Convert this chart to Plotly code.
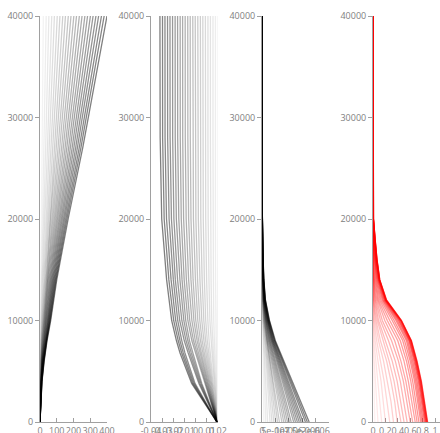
import plotly.graph_objects as go

# ---------------- data ----------------
# Panel 1 (0..400)
y1 = [0, 2000, 4000, 6000, 8000, 10000, 14000, 20000, 27000, 40000]
p1_lines = [
    [0, 0.3, 0.6, 1.3, 2.1, 3.2, 5.0, 8.4, 12.8, 20],
    [0, 0.5, 1.1, 2.3, 3.9, 5.9, 9.3, 15.5, 23.6, 37],
    [0, 0.7, 1.6, 3.3, 5.6, 8.5, 13.3, 22.3, 33.8, 53],
    [0, 0.9, 2.1, 4.4, 7.4, 11.2, 17.5, 29.4, 44.6, 70],
    [0, 1.1, 2.6, 5.4, 9.0, 13.8, 21.5, 36.1, 54.8, 86],
    [0, 1.3, 3.1, 6.4, 10.8, 16.5, 25.8, 43.3, 65.7, 103],
    [0, 1.5, 3.6, 7.4, 12.5, 19.0, 29.8, 50.0, 75.9, 119],
    [0, 1.7, 4.1, 8.5, 14.3, 21.8, 34.0, 57.1, 86.7, 136],
    [0, 1.9, 4.6, 9.5, 16.0, 24.3, 38.0, 63.8, 96.9, 152],
    [0, 2.1, 5.1, 10.6, 17.7, 27.0, 42.3, 71.0, 107.7, 169],
    [0, 2.3, 5.6, 11.6, 19.4, 29.6, 46.3, 77.7, 117.9, 185],
    [0, 2.5, 6.1, 12.6, 21.2, 32.3, 50.5, 84.8, 128.8, 202],
    [0, 2.7, 6.5, 13.6, 22.9, 34.9, 54.5, 91.6, 139.0, 218],
    [0, 2.9, 7.1, 14.7, 24.7, 37.6, 58.8, 98.7, 149.8, 235],
    [0, 3.1, 7.5, 15.7, 26.4, 40.2, 62.8, 105.4, 160.0, 251],
    [0, 3.4, 8.0, 16.8, 28.1, 42.9, 67.0, 112.6, 170.9, 268],
    [0, 3.6, 8.5, 17.8, 29.8, 45.4, 71.0, 119.3, 181.1, 284],
    [0, 3.8, 9.0, 18.8, 31.6, 48.2, 75.3, 126.4, 191.9, 301],
    [0, 4.0, 9.5, 19.8, 33.3, 50.7, 79.3, 133.1, 202.1, 317],
    [0, 4.2, 10.0, 20.9, 35.1, 53.4, 83.5, 140.3, 212.9, 334],
    [0, 4.4, 10.5, 21.9, 36.8, 56.0, 87.5, 147.0, 223.1, 350],
    [0, 4.6, 11.0, 22.9, 38.5, 58.7, 91.8, 154.1, 234.0, 367],
    [0, 4.8, 11.5, 23.9, 40.2, 61.3, 95.8, 160.9, 244.2, 383],
    [0, 5.0, 12.0, 25.0, 42.0, 64.0, 100.0, 168.0, 255.0, 400],
]

# Panel 2 (-0.04..0.02)
y2 = [0, 3800, 6800, 8000, 10000, 14000, 20000, 28000, 40000]
p2_lines = [
    [0.019, 0.0193, 0.0196, 0.0197, 0.0198, 0.0199, 0.0200, 0.0200, 0.0200],
    [0.019, 0.0186, 0.0182, 0.0181, 0.0180, 0.0178, 0.0177, 0.0177, 0.0177],
    [0.019, 0.0179, 0.0170, 0.0166, 0.0162, 0.0159, 0.0156, 0.0155, 0.0155],
    [0.019, 0.0171, 0.0156, 0.0151, 0.0144, 0.0138, 0.0134, 0.0132, 0.0132],
    [0.019, 0.0164, 0.0144, 0.0136, 0.0127, 0.0119, 0.0112, 0.0110, 0.0110],
    [0.019, 0.0157, 0.0130, 0.0120, 0.0109, 0.0098, 0.0090, 0.0087, 0.0087],
    [0.019, 0.0149, 0.0117, 0.0104, 0.0090, 0.0078, 0.0068, 0.0064, 0.0064],
    [0.019, 0.0142, 0.0104, 0.0089, 0.0073, 0.0058, 0.0046, 0.0042, 0.0042],
    [0.019, 0.0135, 0.0091, 0.0074, 0.0055, 0.0038, 0.0024, 0.0020, 0.0019],
    [0.019, 0.0127, 0.0078, 0.0058, 0.0037, 0.0017, 0.0002, -0.0003, -0.0004],
    [0.019, 0.0120, 0.0065, 0.0043, 0.0019, -0.0002, -0.0020, -0.0025, -0.0026],
    [0.019, 0.0113, 0.0052, 0.0027, 0.0001, -0.0023, -0.0042, -0.0048, -0.0049],
    [0.019, 0.0106, 0.0039, 0.0013, -0.0016, -0.0042, -0.0063, -0.0070, -0.0071],
    [0.019, 0.0098, 0.0026, -0.0003, -0.0034, -0.0063, -0.0085, -0.0093, -0.0094],
    [0.019, 0.0091, 0.0013, -0.0019, -0.0053, -0.0083, -0.0108, -0.0116, -0.0117],
    [0.019, 0.0084, 0.0000, -0.0034, -0.0070, -0.0103, -0.0129, -0.0138, -0.0139],
    [0.019, 0.0055, -0.0025, -0.0055, -0.0089, -0.0122, -0.0151, -0.0161, -0.0162],
    [0.019, 0.0047, -0.0039, -0.0070, -0.0106, -0.0141, -0.0173, -0.0183, -0.0184],
    [0.019, 0.0038, -0.0053, -0.0086, -0.0124, -0.0162, -0.0195, -0.0206, -0.0207],
    [0.019, 0.0029, -0.0067, -0.0102, -0.0143, -0.0182, -0.0217, -0.0229, -0.0230],
    [0.019, -0.0006, -0.0096, -0.0124, -0.0161, -0.0200, -0.0238, -0.0251, -0.0252],
    [0.019, -0.0016, -0.0111, -0.0140, -0.0179, -0.0220, -0.0261, -0.0274, -0.0275],
    [0.019, -0.0026, -0.0125, -0.0156, -0.0197, -0.0240, -0.0282, -0.0296, -0.0297],
    [0.019, -0.0036, -0.0140, -0.0172, -0.0215, -0.0260, -0.0304, -0.0318, -0.0320],
]

# Panel 3 (values in units of 1e-6)
y3 = [0, 2000, 4000, 6000, 8000, 10000, 12000, 14000, 17000, 21000, 25000, 40000]
p3_lines_micro = [
    [0.07, 0.058, 0.045, 0.032, 0.02, 0.011, 0.005, 0.003, 0.001, 0, 0, 0],
    [0.14, 0.116, 0.09, 0.065, 0.04, 0.022, 0.01, 0.006, 0.002, 0.001, 0, 0],
    [0.21, 0.174, 0.136, 0.097, 0.06, 0.034, 0.016, 0.008, 0.004, 0.001, 0, 0],
    [0.30, 0.247, 0.192, 0.138, 0.085, 0.048, 0.022, 0.012, 0.005, 0.002, 0, 0],
    [0.37, 0.305, 0.237, 0.170, 0.105, 0.059, 0.027, 0.015, 0.006, 0.002, 0, 0],
    [0.44, 0.363, 0.283, 0.203, 0.125, 0.070, 0.033, 0.018, 0.008, 0.003, 0, 0],
    [0.51, 0.420, 0.328, 0.235, 0.145, 0.081, 0.038, 0.020, 0.009, 0.003, 0, 0],
    [0.58, 0.479, 0.373, 0.267, 0.165, 0.092, 0.043, 0.023, 0.010, 0.003, 0, 0],
    [0.65, 0.537, 0.418, 0.300, 0.185, 0.104, 0.048, 0.026, 0.011, 0.004, 0, 0],
    [0.74, 0.609, 0.475, 0.340, 0.210, 0.118, 0.055, 0.029, 0.013, 0.004, 0, 0],
    [0.81, 0.667, 0.520, 0.373, 0.230, 0.129, 0.060, 0.032, 0.014, 0.005, 0, 0],
    [0.88, 0.725, 0.565, 0.405, 0.250, 0.140, 0.065, 0.035, 0.015, 0.005, 0, 0],
    [0.95, 0.783, 0.610, 0.437, 0.270, 0.151, 0.070, 0.038, 0.016, 0.005, 0, 0],
    [1.02, 0.841, 0.655, 0.470, 0.290, 0.162, 0.075, 0.041, 0.017, 0.006, 0, 0],
    [1.09, 0.899, 0.700, 0.502, 0.310, 0.174, 0.081, 0.043, 0.019, 0.006, 0, 0],
    [1.18, 0.972, 0.757, 0.543, 0.335, 0.188, 0.087, 0.047, 0.020, 0.007, 0, 0],
    [1.25, 1.030, 0.802, 0.575, 0.355, 0.199, 0.092, 0.050, 0.021, 0.007, 0, 0],
    [1.32, 1.088, 0.848, 0.608, 0.375, 0.210, 0.098, 0.053, 0.023, 0.008, 0, 0],
    [1.39, 1.146, 0.893, 0.640, 0.395, 0.221, 0.103, 0.055, 0.024, 0.008, 0, 0],
    [1.46, 1.204, 0.938, 0.672, 0.415, 0.232, 0.108, 0.058, 0.025, 0.008, 0, 0],
    [1.53, 1.262, 0.983, 0.705, 0.435, 0.244, 0.113, 0.061, 0.026, 0.009, 0, 0],
    [1.62, 1.334, 1.040, 0.745, 0.460, 0.258, 0.120, 0.064, 0.028, 0.009, 0, 0],
    [1.69, 1.392, 1.085, 0.778, 0.480, 0.269, 0.125, 0.067, 0.029, 0.010, 0, 0],
    [1.76, 1.450, 1.130, 0.810, 0.500, 0.280, 0.130, 0.070, 0.030, 0.010, 0, 0],
]

# Panel 4 (0..1, red)
y4 = [0, 2000, 4000, 6000, 8000, 10000, 12000, 14000, 16000, 18000, 20000, 40000]
p4_lines = [
    [0.03, 0.02, 0.01, 0.0, 0, 0, 0, 0, 0, 0, 0, 0],
    [0.08, 0.06, 0.035, 0.015, 0.0, 0, 0, 0, 0, 0, 0, 0],
    [0.14, 0.11, 0.08, 0.045, 0.015, 0, 0, 0, 0, 0, 0, 0],
    [0.20, 0.17, 0.13, 0.08, 0.035, 0.01, 0, 0, 0, 0, 0, 0],
    [0.27, 0.23, 0.18, 0.12, 0.06, 0.02, 0.005, 0, 0, 0, 0, 0],
    [0.33, 0.29, 0.23, 0.17, 0.09, 0.035, 0.01, 0, 0, 0, 0, 0],
    [0.39, 0.35, 0.29, 0.22, 0.12, 0.05, 0.015, 0.005, 0, 0, 0, 0],
    [0.45, 0.40, 0.34, 0.26, 0.16, 0.07, 0.025, 0.008, 0, 0, 0, 0],
    [0.50, 0.45, 0.39, 0.31, 0.20, 0.09, 0.035, 0.012, 0.003, 0, 0, 0],
    [0.55, 0.50, 0.44, 0.36, 0.25, 0.12, 0.045, 0.018, 0.006, 0, 0, 0],
    [0.60, 0.55, 0.49, 0.41, 0.30, 0.15, 0.06, 0.025, 0.01, 0.002, 0, 0],
    [0.64, 0.59, 0.53, 0.45, 0.35, 0.19, 0.075, 0.035, 0.015, 0.004, 0, 0],
    [0.68, 0.63, 0.57, 0.50, 0.40, 0.23, 0.09, 0.045, 0.02, 0.007, 0, 0],
    [0.71, 0.66, 0.61, 0.54, 0.44, 0.27, 0.11, 0.055, 0.027, 0.01, 0.001, 0],
    [0.74, 0.69, 0.64, 0.57, 0.48, 0.31, 0.13, 0.065, 0.033, 0.014, 0.002, 0],
    [0.77, 0.72, 0.67, 0.60, 0.51, 0.34, 0.15, 0.075, 0.04, 0.018, 0.003, 0],
    [0.79, 0.74, 0.69, 0.62, 0.54, 0.37, 0.165, 0.083, 0.045, 0.022, 0.004, 0],
    [0.81, 0.76, 0.71, 0.64, 0.56, 0.39, 0.18, 0.09, 0.05, 0.025, 0.005, 0],
    [0.83, 0.78, 0.73, 0.66, 0.58, 0.41, 0.19, 0.095, 0.054, 0.028, 0.006, 0],
    [0.845, 0.795, 0.745, 0.675, 0.59, 0.425, 0.20, 0.10, 0.057, 0.03, 0.006, 0],
    [0.855, 0.805, 0.755, 0.685, 0.60, 0.44, 0.205, 0.103, 0.06, 0.032, 0.007, 0],
    [0.865, 0.815, 0.765, 0.695, 0.61, 0.45, 0.21, 0.106, 0.062, 0.033, 0.007, 0],
    [0.873, 0.823, 0.773, 0.703, 0.615, 0.455, 0.215, 0.108, 0.064, 0.034, 0.008, 0],
    [0.88, 0.83, 0.78, 0.71, 0.62, 0.46, 0.22, 0.11, 0.065, 0.035, 0.008, 0],
]

y_ticks = [0, 10000, 20000, 30000, 40000]
x1_ticks = [0, 100, 200, 300, 400]
x2_ticks = [-0.04, -0.03, -0.02, -0.01, 0, 0.01, 0.02]
x2_labels = ["-0.04", "-0.03", "-0.02", "-0.01", "0", "0.01", "0.02"]
x3_ticks = [0, 5e-7, 1e-6, 1.5e-6, 2e-6]
x3_labels = ["0", "5e-007", "1e-006", "1.5e-006", "2e-006"]
x4_ticks = [0, 0.2, 0.4, 0.6, 0.8, 1]
x4_labels = ["0", "0.2", "0.4", "0.6", "0.8", "1"]

# ---------------- figure ----------------
fig = go.Figure()


def add_family(rows, ys, axis_id, rgb, a0, a1, scale=1.0):
    n = len(rows)
    for i, row in enumerate(rows):
        a = a0 + (a1 - a0) * i / (n - 1)
        fig.add_trace(go.Scatter(
            x=[v * scale for v in row], y=ys, mode="lines",
            line=dict(color=f"rgba({rgb},{a:.3f})", width=1.3),
            xaxis="x" + axis_id, yaxis="y" + axis_id,
            hoverinfo="skip", showlegend=False))


add_family(p1_lines, y1, "", "0,0,0", 0.05, 0.5)
add_family(p2_lines, y2, "2", "0,0,0", 0.05, 0.5)
add_family(p3_lines_micro, y3, "3", "0,0,0", 0.05, 0.5, scale=1e-6)
add_family(p4_lines, y4, "4", "255,0,0", 0.06, 0.65)

font = dict(family="Open Sans, Arial, sans-serif", size=9, color="#808080")
axcol = "#a0a0a0"

common_x = dict(showgrid=False, zeroline=False, showline=True, linecolor=axcol,
                ticks="inside", ticklen=4, tickcolor=axcol, tickfont=font,
                tickangle=0, layer="below traces", automargin=False)
common_y = dict(showgrid=False, zeroline=False, showline=True, linecolor=axcol,
                ticks="outside", ticklen=4, tickcolor=axcol, tickfont=font,
                range=[0, 40000], tickmode="array", tickvals=y_ticks,
                ticktext=[str(v) for v in y_ticks], layer="below traces",
                automargin=False)

doms = [[0.0, 0.1675], [0.2775, 0.445], [0.555, 0.7225], [0.8325, 1.0]]
fig.update_layout(
    width=440, height=433,
    margin=dict(l=40, r=0, t=16, b=11, autoexpand=False),
    paper_bgcolor="white", plot_bgcolor="white",
    xaxis=dict(common_x, domain=doms[0], anchor="y", range=[0, 400],
               tickmode="array", tickvals=x1_ticks, ticktext=[str(v) for v in x1_ticks]),
    xaxis2=dict(common_x, domain=doms[1], anchor="y2", range=[-0.04, 0.02],
                tickmode="array", tickvals=x2_ticks, ticktext=x2_labels),
    xaxis3=dict(common_x, domain=doms[2], anchor="y3", range=[0, 2.5e-6],
                tickmode="array", tickvals=x3_ticks, ticktext=x3_labels),
    xaxis4=dict(common_x, domain=doms[3], anchor="y4", range=[0, 1.08],
                tickmode="array", tickvals=x4_ticks, ticktext=x4_labels),
    yaxis=dict(common_y, anchor="x"),
    yaxis2=dict(common_y, anchor="x2"),
    yaxis3=dict(common_y, anchor="x3"),
    yaxis4=dict(common_y, anchor="x4"),
)

fig.write_html(
    "out.html",
    config={"displayModeBar": False, "staticPlot": True},
    post_script="document.body.style.margin='0px';document.body.style.overflow='hidden';",
)
